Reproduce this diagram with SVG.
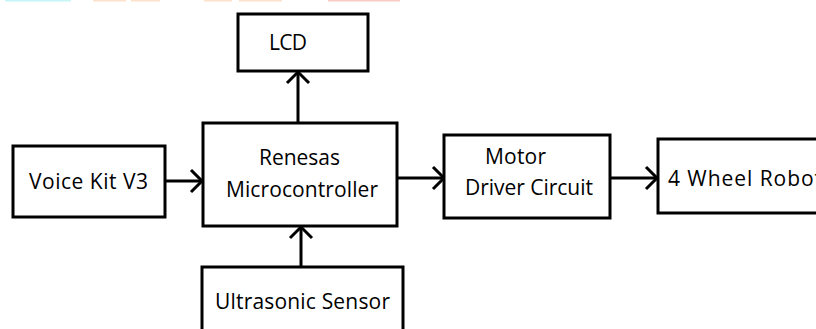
<svg xmlns="http://www.w3.org/2000/svg" width="816" height="329" viewBox="0 0 816 329">
<defs>
<style>
.box{fill:#fff;stroke:#000;stroke-width:3}
.t{font-family:"Open Sans","Noto Sans","DejaVu Sans",sans-serif;font-size:21px;fill:#000}
.c{fill:none;stroke:#000;stroke-width:3}
.ah{fill:none;stroke:#000;stroke-width:3;stroke-linejoin:miter}
</style>
</defs>
<rect width="816" height="329" fill="#fff"/>
<g id="topfragments">
<rect x="5" y="0" width="66" height="1.5" fill="#c8f6f6"/>
<rect x="93" y="0" width="33" height="1.5" fill="#fde2cc"/>
<rect x="131" y="0" width="29" height="1.5" fill="#fde2cc"/>
<rect x="204" y="0" width="28" height="1.5" fill="#fde2cc"/>
<rect x="239" y="0" width="43" height="1.5" fill="#fde2cc"/>
<rect x="328" y="0" width="72" height="1.5" fill="#f8ccc4"/>
</g>
<g id="connectors">
<path class="c" d="M298 123V72"/><path class="ah" d="M287 83L298 72L309 83"/>
<path class="c" d="M165 181H202"/><path class="ah" d="M191 170L202 181L191 192"/>
<path class="c" d="M397 178H444"/><path class="ah" d="M433 167L444 178L433 189"/>
<path class="c" d="M610 178H657"/><path class="ah" d="M646 167L657 178L646 189"/>
<path class="c" d="M301 267V227"/><path class="ah" d="M290 238L301 227L312 238"/>
</g>
<g id="lcd"><rect class="box" x="238" y="14" width="130" height="57"/><text class="t" x="269" y="50" textLength="38">LCD</text></g>
<g id="micro"><rect class="box" x="203" y="123" width="194" height="103"/><text class="t" x="259" y="165" textLength="81">Renesas</text><text class="t" x="226" y="197" textLength="152">Microcontroller</text></g>
<g id="voice"><rect class="box" x="13" y="146" width="152" height="71"/><text class="t" x="29" y="189" textLength="119">Voice Kit V3</text></g>
<g id="motor"><rect class="box" x="444" y="135" width="166" height="83"/><text class="t" x="485" y="164" textLength="61">Motor</text><text class="t" x="465" y="195" textLength="128">Driver Circuit</text></g>
<g id="robot"><rect class="box" x="658" y="139" width="170" height="74"/><text class="t" x="668" y="186" textLength="154">4 Wheel Robot</text></g>
<g id="ultra"><rect class="box" x="202" y="267" width="201" height="70"/><text class="t" x="215" y="309" textLength="175">Ultrasonic Sensor</text></g>
</svg>
